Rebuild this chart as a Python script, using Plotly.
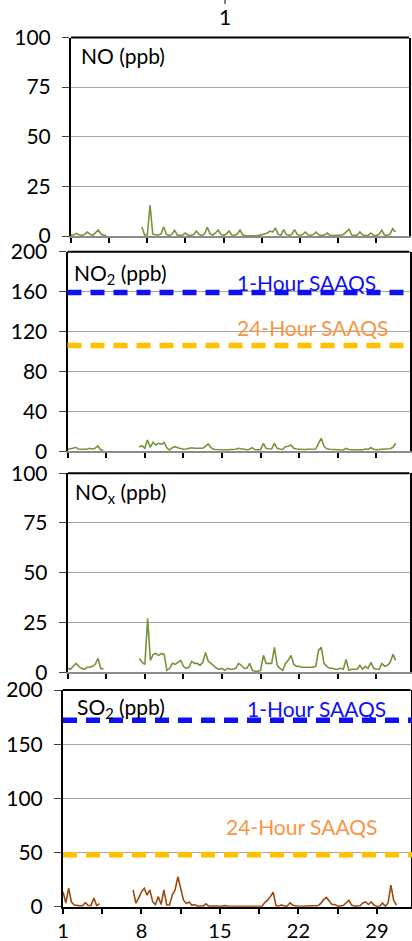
import plotly.graph_objects as go

# ---------------- data (6-hourly readings, day-of-month) ----------------
step_days = 0.25
N = None
no_ppb = [
    0.5, 0.5, 1.3, 0.5,  0.3, 0.8, 2, 0.8,  0.3, 1.5, 3, 1,  0.3, 0.2, N, N,
    N, N, N, N,  N, N, N, N,  N, N, 4.5, 0.5,  0.5, 15.5, 1, 0.5,
    0.5, 1, 4.7, 0.8,  0.3, 0.8, 2.9, 0.5,  0.3, 0.5, 1.5, 0.3,  0.2, 0.8, 2.5, 0.8,
    0.3, 1, 4.4, 1.2,  0.5, 1.5, 3, 0.8,  0.3, 1, 2.5, 0.5,  0.3, 1, 3, 0.5,
    0.2, 0.1, 0.2, 0.1,  0.1, 0.3, 0.5, 1,  1.5, 2.5, 2, 4,  0.8, 0.5, 3.2, 0.8,
    0.3, 0.8, 3.2, 0.8,  0.3, 0.8, 2, 0.5,  0.3, 0.8, 2, 0.5,  0.3, 0.5, 1.5, 0.3,
    0.2, 0.2, 0.3, 0.5,  0.8, 2, 3.4, 0.5,  0.3, 0.5, 2, 0.5,  0.2, 0.3, 1.5, 0.3,
    0.2, 0.8, 3, 0.5,  0.3, 0.8, 3.7, 2,
]
no2_ppb = [
    2, 2.3, 3, 4,  2.3, 2, 2, 2,  3, 2.3, 3, 5.3,  1.5, 1, N, N,
    N, N, N, N,  N, N, N, N,  N, N, 4.3, 5.6,  3, 11.3, 4, 9,
    6.3, 8, 7, 9,  3.6, 1.3, 3.6, 4.6,  3.6, 2.5, 2, 2.3,  3, 3.6, 3, 3,
    3.6, 3, 5, 7.3,  3.6, 2, 1.8, 1.5,  1.8, 1.5, 1.5, 1.8,  1.5, 2, 3, 2.3,
    1.8, 1.5, 2, 3.6,  1.5, 1.3, 1.5, 8,  3, 2.5, 2.3, 8,  3, 2.3, 1.8, 4.6,
    5, 6.3, 3, 2.3,  2, 2, 1.8, 2,  2, 2, 2.3, 8,  13, 5, 2.5, 2,
    1.8, 1.5, 1.5, 1.5,  1.3, 3, 1.8, 1.5,  1.5, 1.5, 2, 1.5,  2.3, 2, 3.6, 2,
    1.5, 1.5, 2, 2.3,  2.5, 2.5, 4, 8,
]
nox_ppb = [
    2, 1.5, 3, 4.5,  3, 2, 1.5, 2.5,  2.5, 3, 4, 7,  2, 1.5, N, N,
    N, N, N, N,  N, N, N, N,  N, N, 7, 5,  4, 27, 6, 9,
    9.5, 8.5, 9.5, 9,  1, 2, 4.5, 4,  5, 6, 3, 2,  2.5, 5.5, 4.5, 4.5,
    3.5, 5, 10, 5.5,  4.5, 3, 2, 1.5,  2, 1, 2, 1.5,  1.5, 2, 4.5, 3.5,
    2, 2, 4.5, 1,  0.5, 0.5, 1, 8.5,  4.5, 4.5, 4.5, 12.5,  3.5, 2, 1, 4.5,
    6, 8.5, 4, 3,  3, 2.5, 2.5, 2.5,  2.5, 2.5, 3, 11,  12.5, 4.5, 3, 2,
    2, 1.5, 1.5, 2,  1.5, 6.5, 1, 1.5,  1.5, 1.5, 3.5, 1.5,  3, 2, 5, 2,
    1.5, 1.5, 4.5, 3,  3.5, 5, 9, 6,
]
so2_ppb = [
    13.8, 3.4, 17, 4.4,  1.5, 1, 0.8, 1,  3.8, 1, 1.2, 8,  1, 2.7, N, N,
    N, N, N, N,  N, N, N, N,  N, 15.5, 3.4, 8,  13.8, 17, 10.7, 15.5,
    4.4, 2, 9.3, 2,  15.5, 1.5, 1.5, 10.7,  15.5, 27.7, 18, 6,  3, 4.4, 1.3, 2,
    0.5, 0.5, 0.5, 2.7,  0.5, 0.5, 0.8, 0.5,  0.3, 0.5, 1, 0.3,  0.3, 0.3, 0.5, 0.3,
    0.3, 0.3, 0.3, 0.3,  0.3, 0.3, 0.5, 0.5,  3.8, 6, 9.3, 13.5,  1, 0.5, 1.6, 0.5,
    0.5, 3.8, 1.3, 0.5,  0.3, 0.3, 0.3, 0.3,  0.3, 0.5, 0.5, 1,  3, 6.5, 8.5, 5.4,
    2, 2, 0.5, 0.5,  1, 3.4, 5.9, 1.5,  0.5, 0.5, 0.8, 3.4,  4.4, 2, 4.4, 1.5,
    0.3, 0.3, 3.4, 0.3,  3.4, 20, 6, 1.5,
]
days = [1 + i * step_days for i in range(len(no_ppb))]

no2_saaqs = {"1-Hour SAAQS": 159, "24-Hour SAAQS": 106}
so2_saaqs = {"1-Hour SAAQS": 172, "24-Hour SAAQS": 48}

x_labels = [1, 8, 15, 22, 29]

# ---------------- layout helpers ----------------
W, H = 412, 941
FONT = "Lato, 'Open Sans', sans-serif"
FS = 21
GREEN = "#77933C"
BROWN = "#9E4A0C"
BLUE = "#1010F5"
GOLD = "#FFC000"
ORANGE_TXT = "#F79646"


def px_x(p):
    return p / W


def px_y(p):
    return 1 - p / H


panels = [
    # (series, color, y range, dtick, x px left, x px right, y px bottom, y px top, x-axis line colour)
    (no_ppb, GREEN, [0, 100], 25, 71, 409, 236, 37.5, "#8c8c8c"),
    (no2_ppb, GREEN, [0, 200], 40, 67.5, 409.5, 451.3, 251.7, "#8c8c8c"),
    (nox_ppb, GREEN, [0, 100], 25, 67.7, 409.5, 672.3, 473.2, "#8c8c8c"),
    (so2_ppb, BROWN, [0, 200], 50, 63, 410.5, 906.7, 690, "black"),
]

fig = go.Figure()
layout = dict(
    template="none",
    width=W, height=H,
    margin=dict(l=0, r=0, t=0, b=0, pad=0),
    paper_bgcolor="white", plot_bgcolor="white",
    showlegend=False,
    font=dict(family=FONT, size=FS, color="black"),
)
shapes = []
for i, (ys, col, yr, dt, xl, xr, yb, yt, xline) in enumerate(panels):
    n = "" if i == 0 else str(i + 1)
    fig.add_trace(go.Scatter(
        x=days, y=ys, mode="lines", line=dict(color=col, width=1.6),
        xaxis="x" + n, yaxis="y" + n, connectgaps=False, hoverinfo="skip",
    ))
    layout["xaxis" + n] = dict(
        domain=[px_x(xl), px_x(xr)], anchor="y" + n, range=[1, 32],
        automargin=False,
        tickmode="array", tickvals=x_labels, showticklabels=(i == 3),
        ticks="outside", ticklen=5, tickwidth=1.5, tickcolor="black",
        minor=dict(ticks="outside", ticklen=5, tickwidth=1.5, tickcolor="black",
                   tick0=1, dtick=3.5, showgrid=False),
        showline=True, linecolor=xline, linewidth=1.8,
        showgrid=False, zeroline=False, fixedrange=True,
        tickfont=dict(family=FONT, size=20, color="black"),
        ticklabelstandoff=0,
    )
    layout["yaxis" + n] = dict(
        domain=[px_y(yb), px_y(yt)], anchor="x" + n, range=yr, dtick=dt, tick0=0,
        automargin=False,
        ticks="outside", ticklen=7, tickwidth=1.2, tickcolor="#444444",
        showline=True, linecolor="black", linewidth=2, mirror=True,
        showgrid=True, gridcolor="#a6a6a6", gridwidth=1.2, zeroline=False,
        tickfont=dict(family=FONT, size=FS, color="black"),
        ticklabelstandoff=7, fixedrange=True,
    )
    shapes.append(dict(type="line", xref="x" + n + " domain", yref="y" + n + " domain",
                       x0=0, x1=1, y0=1, y1=1, line=dict(color="black", width=2)))

# standards lines
for n, std in (("2", no2_saaqs), ("4", so2_saaqs)):
    for name, val in std.items():
        shapes.append(dict(
            type="line", xref="x" + n + " domain", yref="y" + n,
            x0=0, x1=1.01, y0=val, y1=val, layer="above",
            line=dict(color=BLUE if name.startswith("1-") else GOLD, width=5.5, dash="14px,9px"),
        ))

# small mark at the very top
shapes.append(dict(type="line", xref="paper", yref="paper",
                   x0=px_x(225), x1=px_x(225), y0=px_y(0), y1=px_y(4),
                   line=dict(color="#333333", width=1.2)))
layout["shapes"] = shapes


def ann(text, xl, yc, color="black", xanchor="left"):
    return dict(text=text, x=px_x(xl), y=px_y(yc), xref="paper", yref="paper",
                xanchor=xanchor, yanchor="middle", showarrow=False,
                font=dict(family=FONT, size=FS, color=color))


layout["annotations"] = [
    ann("1", 225, 17, xanchor="center"),
    ann("NO (ppb)", 79, 55),
    ann("NO<sub>2</sub> (ppb)", 72, 274),
    ann("NO<sub>x</sub> (ppb)", 73, 493),
    ann("SO<sub>2</sub> (ppb)", 75, 708),
    ann("1-Hour SAAQS", 235, 282, BLUE),
    ann("24-Hour SAAQS", 235, 327, ORANGE_TXT),
    ann("1-Hour SAAQS", 245, 708, BLUE),
    ann("24-Hour SAAQS", 224, 826, ORANGE_TXT),
]

fig.update_layout(**layout)
fig.write_html(
    "out.html",
    config={"displayModeBar": False},
    post_script="document.body.style.margin='0';document.body.style.overflow='hidden';",
)
